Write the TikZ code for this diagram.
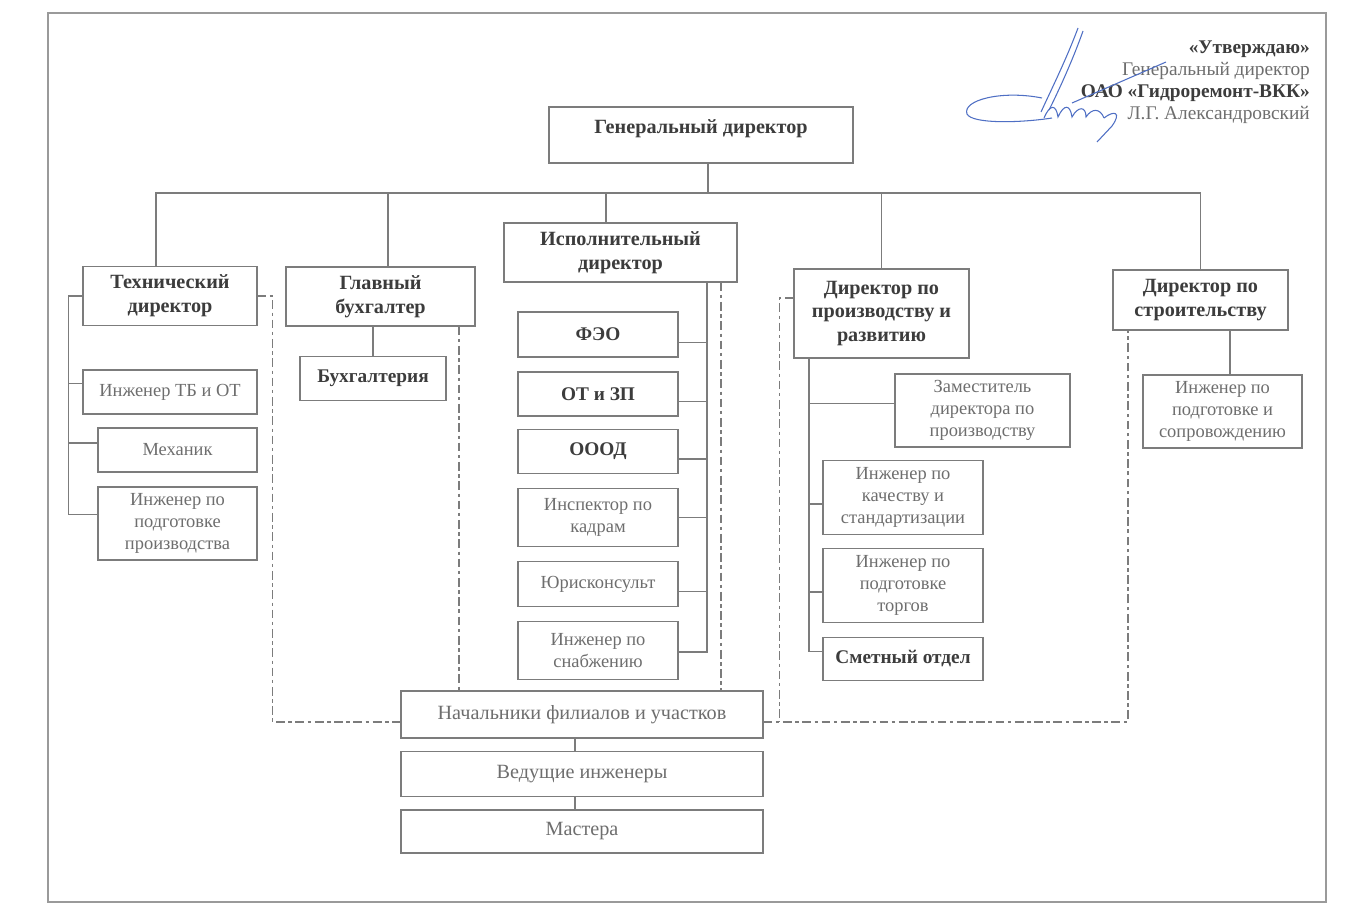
\documentclass[tikz,border=0pt]{standalone}
\usepackage{fontspec}
\setmainfont{Liberation Serif}
\definecolor{lngray}{HTML}{7C7C7C}
\definecolor{bdtext}{HTML}{3C3C3C}
\definecolor{rgtext}{HTML}{6E6E6E}
\definecolor{frgray}{HTML}{9A9A9A}
\definecolor{sigblue}{HTML}{4F6FC4}
\tikzset{
  box/.style={draw=lngray, line width=0.7pt, align=center, inner sep=1pt},
  hd/.style={box, text=bdtext, font=\bfseries\fontsize{11.5}{13.5}\selectfont},
  sb/.style={box, text=rgtext, font=\fontsize{10.5}{12.5}\selectfont},
  lw/.style={box, text=rgtext, font=\fontsize{11.5}{13}\selectfont},
  ln/.style={draw=lngray, line width=0.7pt},
  grp/.style={draw=lngray, line width=0.6pt, dash pattern=on 5pt off 2pt on 2pt off 2pt},
  sig/.style={draw=sigblue, line width=0.6pt},
}
\begin{document}
\begin{tikzpicture}[x=0.02cm, y=-0.02cm]
\path[fill=white, use as bounding box] (0,0) rectangle (1348,916);
\draw[frgray, line width=0.9pt] (48,13) rectangle (1326,902);
% approval
\node[anchor=east, align=right, text=rgtext, font=\fontsize{11}{12.6}\selectfont] (appr) at (1316,82)
  {\textcolor{bdtext}{\bfseries «Утверждаю»}\\Генеральный директор\\\textcolor{bdtext}{\bfseries ОАО «Гидроремонт-ВКК»}\\Л.Г. Александровский};
\draw[sig] (1078,28) .. controls (1066,60) and (1052,88) .. (1041,112);
\draw[sig] (1083,31) .. controls (1072,62) and (1058,92) .. (1049,110);
\draw[sig] (1042,98) .. controls (1002,90) and (962,100) .. (967,114) .. controls (972,124) and (1020,123) .. (1052,118);
\draw[sig] (1044,118) .. controls (1050,104) and (1056,104) .. (1058,117) .. controls (1064,104) and (1070,104) .. (1072,117)
  .. controls (1078,106) and (1086,106) .. (1086,117) .. controls (1092,108) and (1100,108) .. (1104,118);
\draw[sig] (1072,103) -- (1166,62);
\draw[sig] (1104,118) .. controls (1114,110) and (1122,112) .. (1112,126) -- (1097,142);
% top
\node[hd, minimum width=6.08cm, minimum height=1.12cm] (gd) at (701,135) {Генеральный директор\\[-4pt]\mbox{}};
\node[hd, minimum width=3.48cm, minimum height=1.18cm] (td) at (170,296) {Технический\\директор};
\node[hd, minimum width=3.78cm, minimum height=1.18cm] (gb) at (380.5,296.5) {Главный\\бухгалтер};
\node[hd, minimum width=4.66cm, minimum height=1.18cm] (id) at (620.5,252.5) {Исполнительный\\директор};
\node[hd, minimum width=3.5cm, minimum height=1.78cm] (dp) at (881.5,313.5) {Директор по\\производству и\\развитию};
\node[hd, minimum width=3.5cm, minimum height=1.2cm] (ds) at (1200.5,300) {Директор по\\строительству};
% technical
\node[sb, minimum width=3.48cm, minimum height=0.88cm] (t1) at (170,392) {Инженер ТБ и ОТ};
\node[sb, minimum width=3.18cm, minimum height=0.88cm] (t2) at (177.5,450) {Механик};
\node[sb, minimum width=3.18cm, minimum height=1.46cm] (t3) at (177.5,523.5) {Инженер по\\подготовке\\производства};
% accounting
\node[hd, font=\bfseries\fontsize{11}{13}\selectfont, minimum width=2.92cm, minimum height=0.87cm] (b1) at (373,378.5) {Бухгалтерия};
% executive
\node[hd, font=\bfseries\fontsize{11}{13}\selectfont, minimum width=3.2cm, minimum height=0.9cm] (f1) at (598,334.5) {ФЭО};
\node[hd, font=\bfseries\fontsize{11}{13}\selectfont, minimum width=3.2cm, minimum height=0.88cm] (f2) at (598,394) {ОТ и ЗП};
\node[hd, font=\bfseries\fontsize{11}{13}\selectfont, minimum width=3.2cm, minimum height=0.87cm] (f3) at (598,451.5) {ОООД};
\node[sb, minimum width=3.2cm, minimum height=1.17cm] (f4) at (598,517.5) {Инспектор по\\кадрам};
\node[sb, minimum width=3.2cm, minimum height=0.9cm] (f5) at (598,584) {Юрисконсульт};
\node[sb, minimum width=3.2cm, minimum height=1.15cm] (f6) at (598,650.5) {Инженер по\\снабжению};
% production
\node[sb, minimum width=3.5cm, minimum height=1.46cm] (p1) at (982.5,410.5) {Заместитель\\директора по\\производству};
\node[sb, minimum width=3.2cm, minimum height=1.47cm] (p2) at (903,497.5) {Инженер по\\качеству и\\стандартизации};
\node[sb, minimum width=3.2cm, minimum height=1.47cm] (p3) at (903,585.5) {Инженер по\\подготовке\\торгов};
\node[hd, font=\bfseries\fontsize{11}{13}\selectfont, minimum width=3.2cm, minimum height=0.87cm] (p4) at (903,659) {Сметный отдел};
% construction
\node[sb, minimum width=3.18cm, minimum height=1.46cm] (s1) at (1222.5,411.5) {Инженер по\\подготовке и\\сопровождению};
% lower levels
\node[lw, minimum width=7.24cm, minimum height=0.94cm] (n1) at (582,714.5) {Начальники филиалов и участков};
\node[lw, minimum width=7.24cm, minimum height=0.9cm] (n2) at (582,774) {Ведущие инженеры};
\node[lw, minimum width=7.24cm, minimum height=0.86cm] (n3) at (582,831.5) {Мастера};
% bus
\coordinate (bus) at (708,193);
\draw[ln] (gd.south -| bus) -- (bus);
\draw[ln] (td.north -| 156,0) |- (ds.north |- bus) -- (ds.north);
\draw[ln] (gb.north -| 388,0) -- (bus -| 388,0);
\draw[ln] (id.north -| 606,0) -- (bus -| 606,0);
\draw[ln] (dp.north) -- (dp.north |- bus);
% branches
\draw[ln] (td.west) -- ++(-14,0) coordinate (tb);
\foreach \n/\s in {t1/5pt, t2/4pt, t3/5pt}
  \draw[ln] (tb) |- ([yshift=\s]\n.west);
\draw[ln] (gb.south -| b1.north) -- (b1.north);
\foreach \n/\s in {f1/-4.5pt, f2/-4.4pt, f3/-4.3pt, f4/0pt, f5/-4.4pt, f6/-0.8pt}
  \draw[ln] (id.south -| 707,0) |- ([yshift=\s]\n.east);
\foreach \n/\s in {p1/4.2pt, p2/-3.7pt, p3/-3.7pt, p4/4.1pt}
  \draw[ln] (dp.south -| 809,0) |- ([yshift=\s]\n.west);
\draw[ln] (ds.south -| 1230,0) -- (s1.north -| 1230,0);
\draw[ln] (n1.south -| 575,0) -- (n2.north -| 575,0);
\draw[ln] (n2.south -| 575,0) -- (n3.north -| 575,0);
% dashed groups
\draw[grp] (td.east) -- ++(15,0) |- (n1.west |- 0,722);
\draw[grp] (gb.south -| 459,0) -- (n1.north -| 459,0);
\draw[grp] (id.south -| 721,0) -- (n1.north -| 721,0);
\draw[grp] ([yshift=0.31cm]dp.west) -- ++(-14,0) coordinate (dq) -- (dq |- 0,722);
\draw[grp] (n1.east |- 0,722) -| (ds.south -| 1128,0);
\end{tikzpicture}
\end{document}
